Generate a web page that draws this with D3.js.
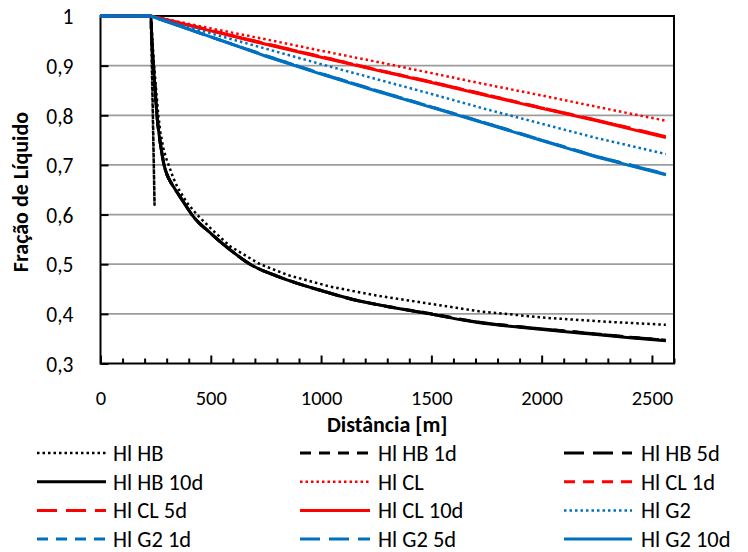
<!DOCTYPE html>
<html>
<head>
<meta charset="utf-8">
<script src="https://cdn.jsdelivr.net/npm/d3@7/dist/d3.min.js"></script>
<style>
  body { margin: 0; background: #fff; }
  svg { display: block; }
  text { font-family: Carlito, Calibri, Lato, sans-serif; fill: #000; }
</style>
</head>
<body>
<svg id="chart" width="748" height="552"></svg>
<script>
// Distance along the line [m] and liquid holdup for each case
const distHB = [0, 228, 233, 240, 248, 256, 266, 276, 288, 302, 316, 331, 350, 384, 414, 500, 588, 678, 800, 889, 1000, 1144, 1300, 1492, 1718, 1900, 2170, 2400, 2563];
const hlHB10d = [1, 1, 0.95, 0.9, 0.85, 0.8, 0.76, 0.73, 0.7, 0.68, 0.667, 0.656, 0.643, 0.62, 0.6, 0.562, 0.529, 0.5, 0.476, 0.462, 0.447, 0.429, 0.415, 0.4, 0.382, 0.373, 0.3615, 0.352, 0.346];
const hlHB5d = [1, 1, 0.95, 0.9, 0.85, 0.8, 0.76, 0.73, 0.7, 0.68, 0.667, 0.656, 0.643, 0.62, 0.6, 0.562, 0.529, 0.5, 0.476, 0.462, 0.447, 0.429, 0.415, 0.4, 0.383, 0.374, 0.3625, 0.353, 0.347];
const hlHB1d = [1, 1, 0.95, 0.9, 0.85, 0.8, 0.76, 0.73, 0.7, 0.68, 0.667, 0.656, 0.643, 0.62, 0.6, 0.562, 0.529, 0.5, 0.476, 0.462, 0.447, 0.429, 0.415, 0.401, 0.383, 0.374, 0.363, 0.353, 0.347];

// the steady-state case has a short spike down to 0.62 right after the inlet
const distHBss = [0, 228, 245, 230, 243, 262, 272, 284, 297, 309, 328, 348, 390, 437, 500, 588, 723, 850, 1040, 1250, 1492, 1718, 2019, 2300, 2563];
const hlHB = [1, 1, 0.62, 0.99, 0.9, 0.8, 0.765, 0.735, 0.714, 0.7, 0.676, 0.656, 0.625, 0.6, 0.572, 0.536, 0.5, 0.478, 0.455, 0.437, 0.4205, 0.405, 0.392, 0.384, 0.378];

const distLin = [0, 228, 500, 750, 1000, 1250, 1500, 1750, 2000, 2250, 2563];
const hlCL = [1, 1, 0.975, 0.953, 0.930, 0.908, 0.885, 0.862, 0.840, 0.817, 0.789];
const hlCL1d = [1, 1, 0.971, 0.944, 0.918, 0.892, 0.867, 0.841, 0.815, 0.790, 0.757];
const hlCL5d = [1, 1, 0.971, 0.944, 0.918, 0.892, 0.867, 0.841, 0.815, 0.790, 0.757];
const hlCL10d = [1, 1, 0.970, 0.943, 0.917, 0.891, 0.866, 0.840, 0.814, 0.789, 0.755];
const hlG2 = [1, 1, 0.965, 0.934, 0.903, 0.873, 0.843, 0.812, 0.783, 0.754, 0.722];
const hlG21d = [1, 1, 0.958, 0.920, 0.884, 0.850, 0.817, 0.784, 0.750, 0.717, 0.682];
const hlG25d = [1, 1, 0.958, 0.920, 0.884, 0.850, 0.817, 0.784, 0.750, 0.717, 0.681];
const hlG210d = [1, 1, 0.958, 0.919, 0.883, 0.849, 0.816, 0.783, 0.749, 0.716, 0.680];

const seriesNames = ["Hl HB", "Hl HB 1d", "Hl HB 5d", "Hl HB 10d",
                     "Hl CL", "Hl CL 1d", "Hl CL 5d", "Hl CL 10d",
                     "Hl G2", "Hl G2 1d", "Hl G2 5d", "Hl G2 10d"];
const xTicks = [0, 500, 1000, 1500, 2000, 2500];
const yTicks = [0.3, 0.4, 0.5, 0.6, 0.7, 0.8, 0.9, 1];

// line styles: black / red / blue, dotted / dash / long dash / solid
const colors = { HB: "#000000", CL: "#ff0000", G2: "#0070c0" };
const dashes = {
  ref: { w: 2.5, d: "2.5,3" },
  d1: { w: 3, d: "11,8" },
  d5: { w: 3, d: "20,9" },
  d10: { w: 3, d: null }
};

// smooth curve only where the holdup decays sharply; the rest are straight segments
const series = [
  { name: seriesNames[0], x: distHBss, y: hlHB, c: colors.HB, s: dashes.ref, smooth: false },
  { name: seriesNames[1], x: distHB, y: hlHB1d, c: colors.HB, s: dashes.d1, smooth: true },
  { name: seriesNames[2], x: distHB, y: hlHB5d, c: colors.HB, s: dashes.d5, smooth: true },
  { name: seriesNames[3], x: distHB, y: hlHB10d, c: colors.HB, s: dashes.d10, smooth: true },
  { name: seriesNames[4], x: distLin, y: hlCL, c: colors.CL, s: dashes.ref, smooth: false },
  { name: seriesNames[5], x: distLin, y: hlCL1d, c: colors.CL, s: dashes.d1, smooth: false },
  { name: seriesNames[6], x: distLin, y: hlCL5d, c: colors.CL, s: dashes.d5, smooth: false },
  { name: seriesNames[7], x: distLin, y: hlCL10d, c: colors.CL, s: dashes.d10, smooth: false },
  { name: seriesNames[8], x: distLin, y: hlG2, c: colors.G2, s: dashes.ref, smooth: false },
  { name: seriesNames[9], x: distLin, y: hlG21d, c: colors.G2, s: dashes.d1, smooth: false },
  { name: seriesNames[10], x: distLin, y: hlG25d, c: colors.G2, s: dashes.d5, smooth: false },
  { name: seriesNames[11], x: distLin, y: hlG210d, c: colors.G2, s: dashes.d10, smooth: false }
];

const svg = d3.select("#chart");
const plotL = 100.5, plotR = 674, plotT = 16, plotB = 363.5;

const x = d3.scaleLinear().domain([0, 2600]).range([plotL, plotR]);
const y = d3.scaleLinear().domain([0.3, 1]).range([plotB, plotT]);

// horizontal gridlines
svg.append("g").selectAll("line")
  .data(yTicks.filter(v => v > 0.3 && v < 1))
  .join("line")
  .attr("x1", plotL).attr("x2", plotR)
  .attr("y1", d => y(d)).attr("y2", d => y(d))
  .attr("stroke", "#9c9c9c").attr("stroke-width", 1.8);

// plot frame
svg.append("rect")
  .attr("x", plotL).attr("y", plotT)
  .attr("width", plotR - plotL).attr("height", plotB - plotT)
  .attr("fill", "none").attr("stroke", "#000").attr("stroke-width", 2);

// x axis: major ticks every 500 m, minor every 100 m, drawn inward
const xAxis = d3.axisBottom(x).tickValues(xTicks).tickSize(-8).tickFormat(d3.format("d"));
const gx = svg.append("g").attr("transform", `translate(0,${plotB})`).call(xAxis);
gx.select(".domain").remove();
gx.selectAll(".tick line").attr("stroke", "#000").attr("stroke-width", 2);
gx.selectAll("text").attr("font-size", 20.5).attr("dy", null).attr("y", 41.5);
const xMinor = d3.axisBottom(x).tickValues(d3.range(0, 2601, 100).filter(v => v % 500 !== 0)).tickSize(-5).tickFormat("");
const gxm = svg.append("g").attr("transform", `translate(0,${plotB})`).call(xMinor);
gxm.select(".domain").remove();
gxm.selectAll(".tick line").attr("stroke", "#000").attr("stroke-width", 2);

// y axis with decimal comma
const fmtComma = d => d === 1 ? "1" : d3.format(".1f")(d).replace(".", ",");
const yAxis = d3.axisLeft(y).tickValues(yTicks).tickSize(-8).tickFormat(fmtComma);
const gy = svg.append("g").attr("transform", `translate(${plotL},0)`).call(yAxis);
gy.select(".domain").remove();
gy.selectAll(".tick line").attr("stroke", "#000").attr("stroke-width", 2);
gy.selectAll("text").attr("font-size", 21.5).attr("x", -27).attr("dy", "0.36em");

// axis titles
svg.append("text")
  .attr("x", (plotL + plotR) / 2).attr("y", 431.5)
  .attr("text-anchor", "middle").attr("font-size", 22).attr("font-weight", "bold")
  .text("Distância [m]");
svg.append("text")
  .attr("transform", `translate(28,192) rotate(-90)`)
  .attr("text-anchor", "middle").attr("font-size", 22).attr("font-weight", "bold")
  .text("Fração de Líquido");

// data lines
const lineSmooth = d3.line().x(d => x(d[0])).y(d => y(d[1])).curve(d3.curveMonotoneX);
const lineStraight = d3.line().x(d => x(d[0])).y(d => y(d[1]));
svg.append("g").selectAll("path")
  .data(series)
  .join("path")
  .attr("d", s => (s.smooth ? lineSmooth : lineStraight)(s.x.map((v, i) => [v, s.y[i]])))
  .attr("fill", "none")
  .attr("stroke", s => s.c)
  .attr("stroke-width", s => s.s.w)
  .attr("stroke-dasharray", s => s.s.d)
  .attr("stroke-linejoin", "round");

// legend: 3 columns x 4 rows
const legCols = [{ x1: 37, x2: 106, tx: 113 }, { x1: 300, x2: 370, tx: 378 }, { x1: 564, x2: 632, tx: 641 }];
const legRow0 = 453, legRowStep = 28.7;
const leg = svg.append("g").selectAll("g")
  .data(series)
  .join("g")
  .attr("transform", (s, i) => `translate(0,${legRow0 + Math.floor(i / 3) * legRowStep})`);
leg.append("line")
  .attr("x1", (s, i) => legCols[i % 3].x1).attr("x2", (s, i) => legCols[i % 3].x2)
  .attr("stroke", s => s.c)
  .attr("stroke-width", s => s.s.w)
  .attr("stroke-dasharray", s => s.s.d);
leg.append("text")
  .attr("x", (s, i) => legCols[i % 3].tx).attr("y", 8)
  .attr("font-size", 22.5)
  .text(s => s.name);
</script>
</body>
</html>
